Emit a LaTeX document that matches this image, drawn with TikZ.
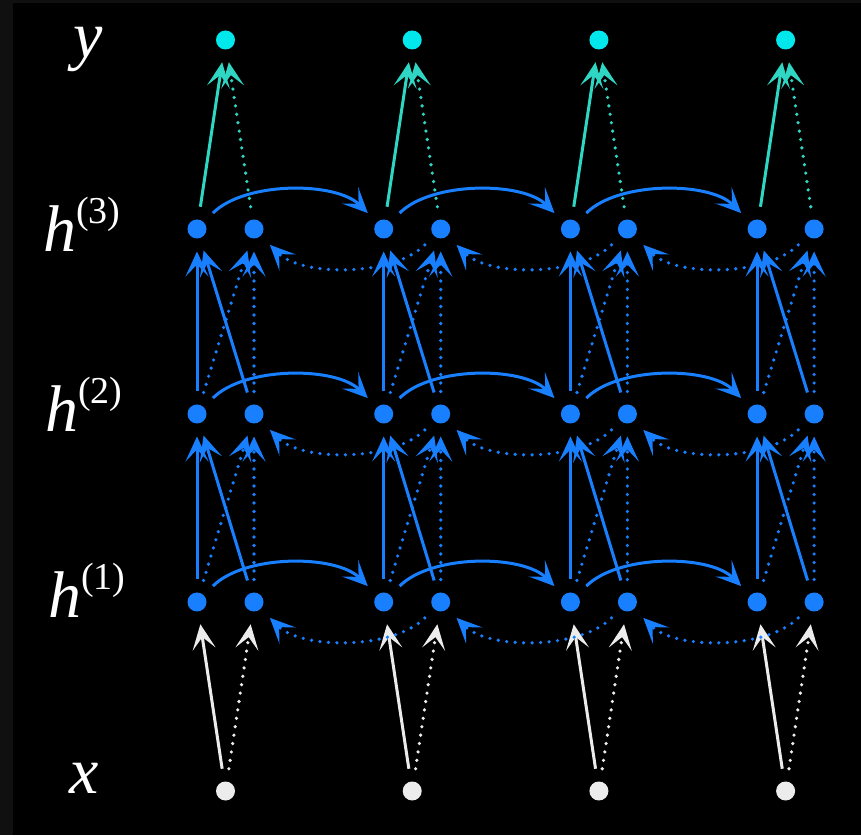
\documentclass[tikz,border=0pt]{standalone}
\usepackage{fontspec}
\setmainfont{Liberation Serif}
\usetikzlibrary{arrows.meta}
\definecolor{hblue}{RGB}{24,128,255}
\definecolor{ycyan}{RGB}{0,232,236}
\definecolor{yteal}{RGB}{48,214,196}
\definecolor{xwhite}{RGB}{236,236,236}
\definecolor{edgegray}{RGB}{16,16,16}

\tikzset{
  unit/.style={circle,fill=#1,minimum size=19pt,inner sep=0pt,outer sep=13pt},
  con/.style={draw=#1,line width=3pt,-{Stealth[length=25pt,width=23pt,inset=12pt]}},
  dots/.style={con=#1,line cap=round,dash pattern=on 0pt off 8.5pt,line width=3.6pt},
  lab/.style={text=white,font=\fontsize{66}{70}\selectfont\itshape,inner sep=0pt}
}
\newcommand{\layersup}[1]{\raisebox{28pt}{\upshape\fontsize{38}{40}\selectfont(#1)}}

\begin{document}
\begin{tikzpicture}[x=1pt,y=1pt]
        \fill[black] (0,0) rectangle (861,835);
        \useasboundingbox (0,0) rectangle (861,835);
        \fill[edgegray] (0,0) rectangle (13,835);
        \fill[edgegray] (13,832) rectangle (861,835);

        % units
        \foreach \t in {1,...,4}{
            \pgfmathsetmacro{\xf}{197+186.7*(\t-1)}
            \node[unit=xwhite] (X\t) at (\xf+28.5,44) {};
            \node[unit=ycyan] (Y\t) at (\xf+28.5,795) {};
            \foreach \l/\yy in {1/233,2/421,3/606}{
                \node[unit=hblue] (F\l\t) at (\xf,\yy) {};
                \node[unit=hblue] (B\l\t) at (\xf+57,\yy) {};
            }
        }

        % input, output and layer links
        \foreach \t in {1,...,4}{
            \draw[con=xwhite] (X\t) -- (F1\t);
            \draw[dots=xwhite] (X\t) -- (B1\t);
            \draw[con=yteal] (F3\t) -- (Y\t);
            \draw[dots=yteal] (B3\t) -- (Y\t);
            \foreach \l/\u in {1/2,2/3}{
                \draw[con=hblue] (F\l\t) -- (F\u\t);
                \draw[con=hblue] (B\l\t) -- (F\u\t);
                \draw[dots=hblue] (F\l\t) -- (B\u\t);
                \draw[dots=hblue] (B\l\t) -- (B\u\t);
            }
        }

        % recurrent links
        \foreach \l in {1,2,3}{
            \foreach \t/\n in {1/2,2/3,3/4}{
                \draw[con=hblue] (F\l\t.45) .. controls +(45:45) and +(135:45) .. (F\l\n.135);
                \draw[dots=hblue] (B\l\n.225) .. controls +(225:45) and +(315:45) .. (B\l\t.315);
            }
        }

        \node[lab,anchor=base] (LY) at (88,777) {y};
        \node[lab,anchor=base west] (L3) at (43,583) {h\layersup{3}};
        \node[lab,anchor=base west] (L2) at (45,403) {h\layersup{2}};
        \node[lab,anchor=base west] (L1) at (48,217) {h\layersup{1}};
        \node[lab,anchor=base] (LX) at (84,42) {x};
    \end{tikzpicture}
\end{document}
